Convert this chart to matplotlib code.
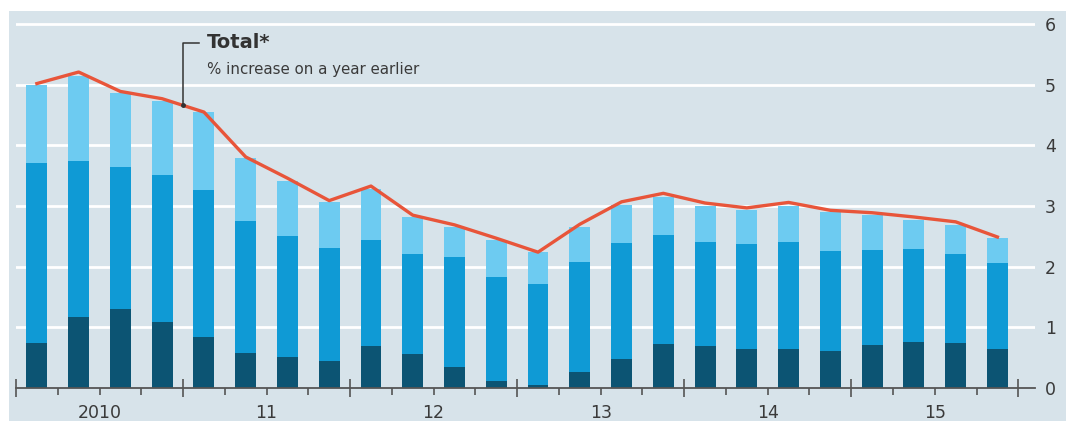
import matplotlib

matplotlib.use("Agg")
import matplotlib.pyplot as plt
import numpy as np
from matplotlib.patches import Rectangle

# quarterly contributions, 2010Q1 .. 2015Q4 (percentage points)
years = ["2010", "11", "12", "13", "14", "15"]
dark = [0.74, 1.17, 1.30, 1.09, 0.84, 0.57, 0.51, 0.44, 0.69, 0.56, 0.35, 0.12,
        0.05, 0.27, 0.48, 0.73, 0.69, 0.64, 0.65, 0.61, 0.71, 0.76, 0.74, 0.64]
mid = [2.97, 2.58, 2.34, 2.42, 2.43, 2.18, 1.99, 1.87, 1.75, 1.65, 1.81, 1.71,
       1.66, 1.81, 1.91, 1.79, 1.72, 1.73, 1.76, 1.65, 1.56, 1.53, 1.47, 1.42]
light = [1.28, 1.40, 1.23, 1.22, 1.28, 1.04, 0.92, 0.76, 0.84, 0.61, 0.49, 0.61,
         0.53, 0.57, 0.63, 0.63, 0.59, 0.57, 0.59, 0.64, 0.58, 0.48, 0.48, 0.41]
total = [5.02, 5.21, 4.89, 4.77, 4.55, 3.81, 3.46, 3.09, 3.33, 2.85, 2.69, 2.47,
         2.24, 2.70, 3.07, 3.21, 3.05, 2.97, 3.06, 2.93, 2.89, 2.82, 2.74, 2.49]
yticks = [0, 1, 2, 3, 4, 5, 6]

BG = "#d7e3ea"
DARK = "#0c5473"
MID = "#0f9ad5"
LIGHT = "#6dcbf1"
RED = "#e8553a"
TEXT = "#3a3a3a"


def main() -> None:
    fig = plt.figure(figsize=(10.66, 4.21), dpi=100)
    fig.patches.append(Rectangle((9 / 1066, 0), 1, 1 - 11 / 421, transform=fig.transFigure,
                                 facecolor=BG, edgecolor="none", zorder=-10))
    ax = fig.add_axes([16 / 1066, 1 - 388 / 421, (1035 - 16) / 1066, (388 - 12) / 421])
    ax.set_facecolor("none")

    x = np.arange(len(dark))
    d = np.asarray(dark)
    m = np.asarray(mid)
    ax.bar(x, dark, width=0.5, color=DARK, zorder=2)
    ax.bar(x, mid, width=0.5, bottom=d, color=MID, zorder=2)
    ax.bar(x, light, width=0.5, bottom=d + m, color=LIGHT, zorder=2)
    ax.plot(x, total, color=RED, lw=2.4, zorder=3, solid_joinstyle="round")

    ax.set_xlim(-0.5, 23.9)
    ax.set_ylim(0, 6.2)
    for spine in ["top", "left", "right"]:
        ax.spines[spine].set_visible(False)
    ax.spines["bottom"].set_color("#555555")
    ax.spines["bottom"].set_linewidth(1.3)

    ax.set_yticks(yticks)
    ax.yaxis.tick_right()
    ax.tick_params(axis="y", length=0, pad=7, labelsize=12.5, labelcolor=TEXT)
    for v in yticks[1:]:
        ax.axhline(v, color="white", lw=2, zorder=1)

    n_years = len(years)
    bounds = np.arange(n_years + 1) * 4 - 0.5
    quarters = [q - 0.5 for q in range(len(dark) + 1) if q % 4 != 0]
    ax.set_xticks(bounds)
    ax.set_xticklabels([])
    ax.set_xticks(quarters, minor=True)
    ax.tick_params(axis="x", which="major", direction="inout", length=13, width=1.2, color="#555555")
    ax.tick_params(axis="x", which="minor", direction="out", length=5, width=1.2, color="#555555")
    for i, label in enumerate(years):
        ax.annotate(label, xy=(i * 4 + 1.5, 0), xycoords=("data", "axes fraction"),
                    xytext=(0, -18), textcoords="offset points", ha="center", va="center",
                    fontsize=12.5, color=TEXT)

    # leader from the line to the "Total" label
    px = 3.5
    py = np.interp(px, x, total)
    ax.plot([px, px, 3.88], [py, 5.69, 5.69], color="#333333", lw=1.1, zorder=4)
    ax.plot([px], [py], "o", color="#333333", ms=2.5, zorder=4)
    ax.text(4.08, 5.69, "Total*", fontsize=14, fontweight="bold", color="#333333",
            va="center", ha="left")
    ax.text(4.08, 5.25, "% increase on a year earlier", fontsize=10.8, color=TEXT,
            va="center", ha="left")

    fig.savefig("out.png", dpi=100)
    plt.close(fig)


if __name__ == "__main__":
    main()
